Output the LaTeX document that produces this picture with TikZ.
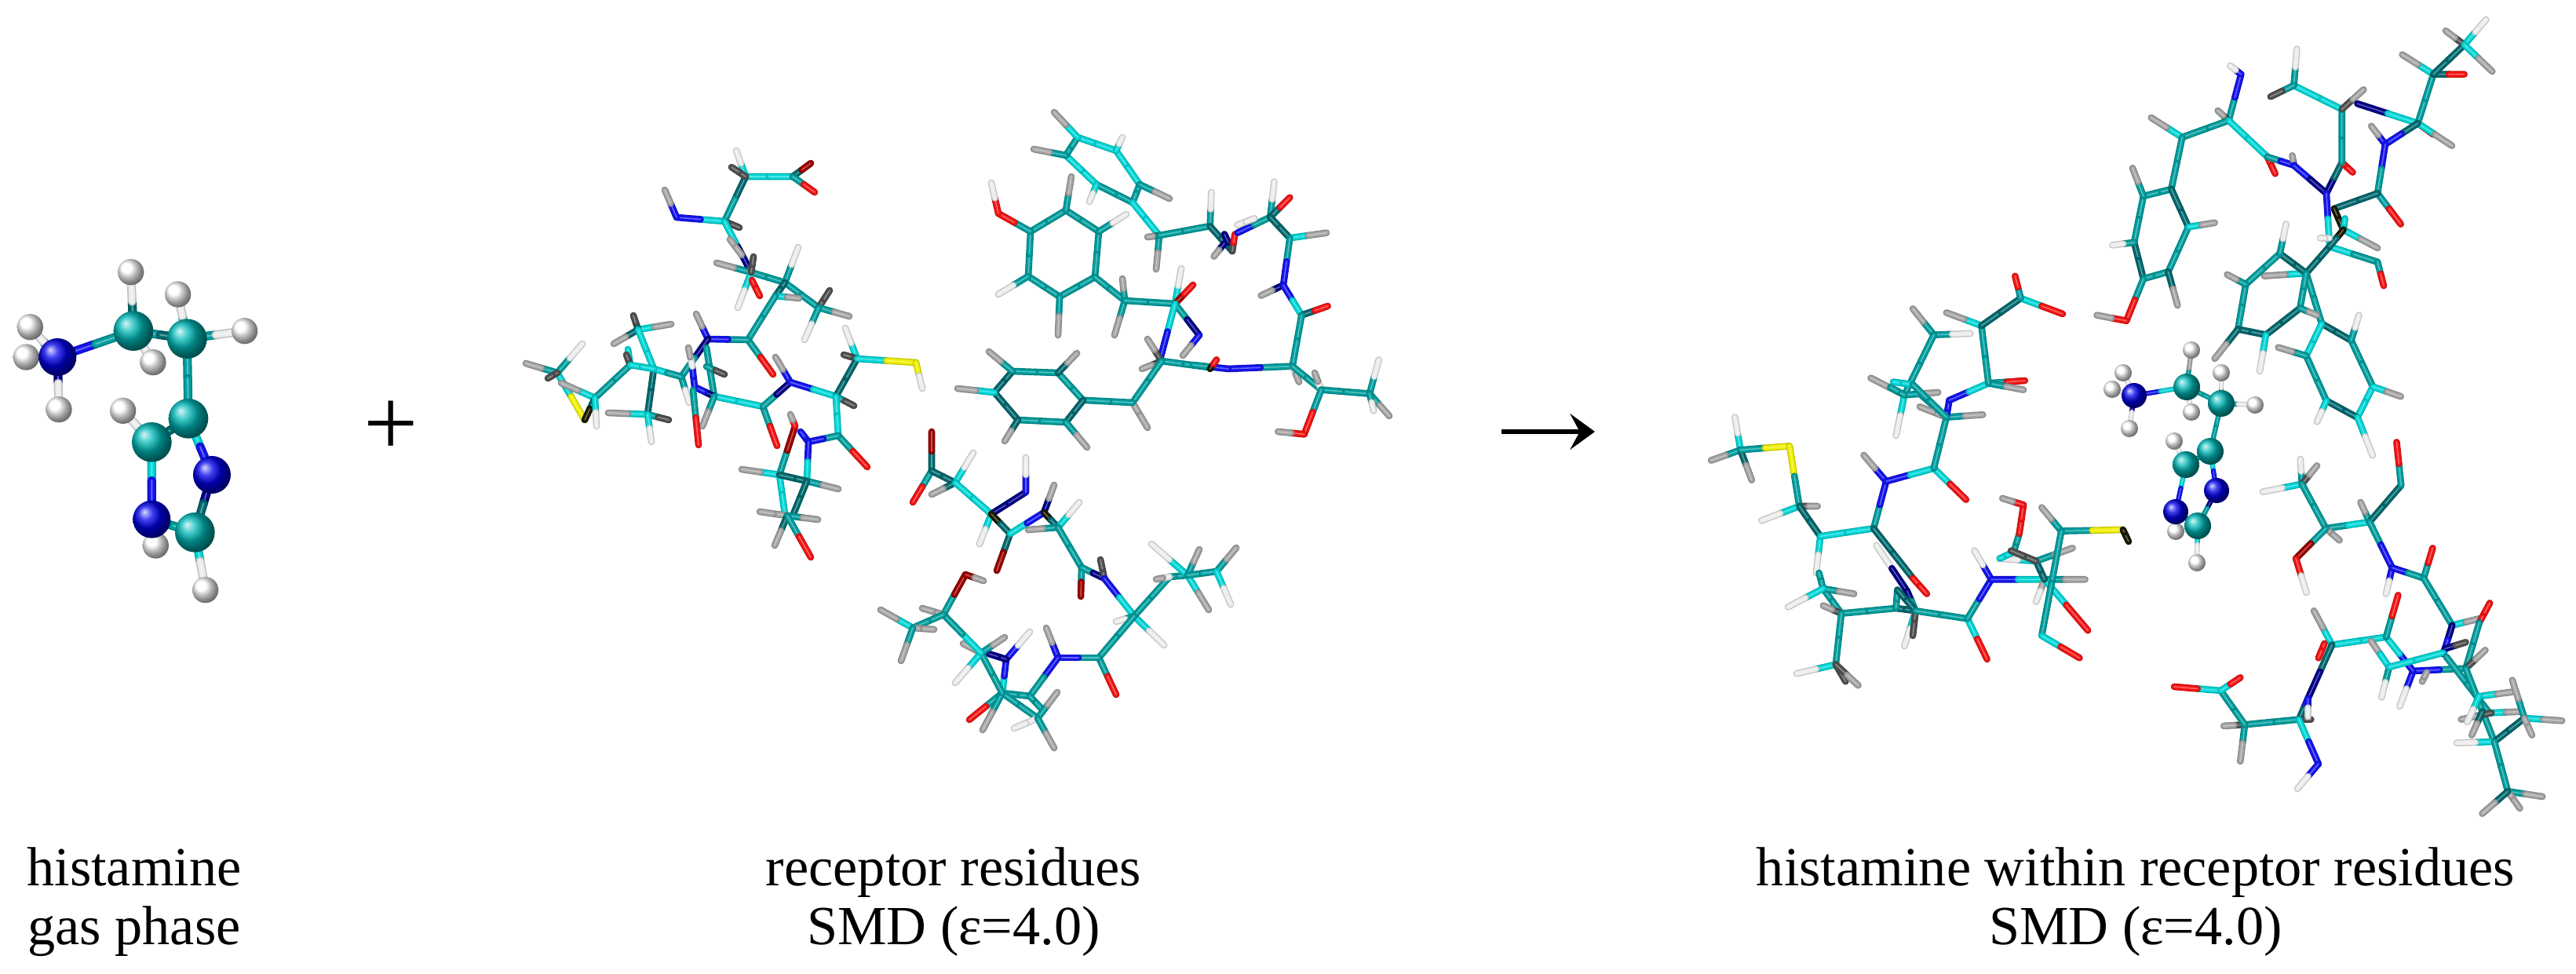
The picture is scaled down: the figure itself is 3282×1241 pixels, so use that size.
\documentclass[tikz,border=0pt]{standalone}
\usepackage{fontspec}
\setmainfont{Liberation Serif}
\usetikzlibrary{calc,arrows.meta}

\definecolor{ct}{RGB}{0,158,158}
\definecolor{cd}{RGB}{0,105,110}
\definecolor{cb}{RGB}{0,215,215}
\definecolor{hw}{RGB}{236,236,236}
\definecolor{hg}{RGB}{165,165,165}
\definecolor{hk}{RGB}{80,80,80}
\definecolor{nb}{RGB}{20,20,240}
\definecolor{nd}{RGB}{0,0,135}
\definecolor{or}{RGB}{245,20,20}
\definecolor{od}{RGB}{155,0,0}
\definecolor{sy}{RGB}{240,240,0}
\definecolor{sk}{RGB}{25,25,0}

\newlength\stickwd
\setlength\stickwd{2.45pt}

% one bond, each half in the colour of its atom
\newcommand\halfstick[3]{%
  \draw[line width=\stickwd,line cap=round,#3!82!black] #1 -- #2;
  \draw[line width=.7\stickwd,line cap=round,#3] #1 -- #2;
  \draw[line width=.18\stickwd,line cap=round,#3!65!white] #1 -- #2;
}
\newcommand\sticks[1]{%
  \foreach \xa/\ya/\ca/\xb/\yb/\cb in {#1}{%
    \coordinate (mid) at ($(\xa,\ya)!.5!(\xb,\yb)$);
    \halfstick{(\xa,\ya)}{(mid)}{\ca}
    \halfstick{(\xb,\yb)}{(mid)}{\cb}
  }%
}
\newcommand\balls[2]{%
  \foreach \xa/\ya in {#2}{\shade[#1] (\xa,\ya) circle;}%
}

\tikzset{
  capt/.style={align=center,font=\fontsize{20}{21.4}\selectfont},
  atomc/.style={ball color=cyan!72!black,radius=\rc},
  atomn/.style={ball color=blue!92!black,radius=\rn},
  atomh/.style={ball color=white,radius=\rh}
}

\begin{document}
\begin{tikzpicture}[x=0.1mm,y=-0.1mm]
  \useasboundingbox (0,0) rectangle (3282,1241);

  % histamine, gas phase
  \begin{scope}[shift={(0,320)},xscale=.3333,yscale=.3333]
    \setlength\stickwd{3.2pt}
    \sticks{220/405/nb/510/305/ct,510/305/ct/715/335/cd,715/335/ct/720/640/ct,720/640/cd/580/730/cd,
      720/640/cb/810/855/nb,580/730/cb/580/1025/nb,810/855/nd/745/1075/cd,580/1025/ct/745/1075/ct,
      510/305/cd/500/80/hw,715/335/cb/680/165/hw,715/335/ct/935/305/hw,510/305/cb/585/425/hw,
      220/405/nd/115/290/hw,220/405/nd/100/405/hw,220/405/nd/225/605/hw,580/730/cb/470/610/hw,
      745/1075/cb/785/1295/hw}
    \def\rh{50}\def\rc{76}\def\rn{72}
    \balls{atomh}{115/290,100/405,225/605,500/80,680/165,935/305,585/425,470/610,595/1125,785/1295}
    \balls{atomc}{510/305,715/335,720/640,580/730,745/1075}
    \balls{atomn}{220/405,810/855,580/1025}
  \end{scope}

  \node[font=\fontsize{35}{35}\selectfont] (plus) at (498,546) {+};
  \coordinate (arrowa) at (1913,550);
  \coordinate (arrowb) at (2032,550);
  \draw[line width=1.5pt,-{Stealth[length=9pt,width=13pt,inset=3.5pt]}] (arrowa) -- (arrowb);

  % receptor residues, first group
  \sticks{950/225/cb/1010/225/cb,950/225/cd/923/282/ct,950/225/cb/938/192/hw,950/225/hk/932/213/hk,
    1010/225/cd/1033/208/od,1010/225/ct/1038/245/or,923/282/cb/862/277/nb,862/277/nb/847/242/hg,
    923/282/hk/942/290/hk,923/282/cb/957/347/nd,930/305/hg/945/325/hg,957/347/ct/1000/360/ct,
    957/347/ct/913/335/hg,957/347/cb/940/392/hw,957/347/hk/960/327/hk,958/357/or/968/377/or,
    1000/360/ct/1017/315/hw,1000/360/ct/1043/392/ct,1043/392/hk/1057/370/hk,1043/392/ct/1082/403/hg,
    1043/392/ct/1025/433/hw,1000/360/cd/988/377/cd,988/377/cb/1018/380/hg,988/377/ct/953/433/ct,
    953/433/ct/985/477/or,953/433/ct/902/432/nb,902/432/nb/887/400/hg,902/432/nd/868/480/ct,
    868/480/ct/878/513/hw,710/475/cb/745/535/sy,710/475/ct/670/463/hg,710/475/ct/742/438/hw,
    710/475/hk/698/482/hk,803/465/ct/758/507/ct,758/507/cb/715/488/hg,758/507/cd/745/535/sk,
    758/507/cb/760/543/hw,833/470/cd/825/528/cd,825/528/cb/775/526/hg,825/528/ct/852/535/hk,
    825/528/cb/830/563/hw,813/420/cd/782/438/hg,813/420/cb/855/413/hg,813/420/cd/807/402/hk,
    833/470/cb/813/420/cb,833/470/cb/868/480/ct,803/465/cb/800/445/cb,803/465/hk/798/452/hk,
    803/465/cb/833/470/cb,900/443/ct/910/505/ct,910/505/cb/972/518/cb,910/505/nd/885/493/nb,
    885/493/nb/882/467/nb,882/467/hw/877/443/hg,900/467/ct/923/477/hk,910/505/ct/895/543/hg,
    883/497/ct/890/567/or,972/518/ct/990/568/or,972/518/ct/1007/487/nd,1007/487/nb/988/455/hg,
    1007/487/nb/1065/505/cb,1065/505/cd/1092/457/cd,1065/505/ct/1088/517/hk,1065/505/cb/1068/555/cb,
    1092/457/cb/1077/418/hw,1092/457/hk/1075/452/hk,1092/457/cb/1167/462/sy,1167/462/sy/1175/495/hw,
    1068/555/ct/1105/595/or,1068/555/ct/1030/563/nb,1030/563/nb/1020/550/nb,1030/563/nb/1028/613/cb,
    993/605/ct/1013/543/od,1013/543/or/1007/528/hg,993/605/cb/945/598/hg,993/605/cb/1000/655/cb,
    1028/613/cd/993/605/cd,1028/613/ct/1068/623/hg,1028/613/cd/1010/657/cd,1003/657/hg/968/652/hg,
    1003/657/ct/1042/662/hg,1003/657/cd/987/695/hg,1003/657/ct/1033/710/or}

  % receptor residues, second group
  \sticks{1373/175/cb/1422/192/cb,1422/192/cb/1452/235/cb,1452/235/ct/1443/258/ct,1443/258/ct/1397/235/ct,
    1397/235/cb/1358/198/cb,1358/198/ct/1373/175/ct,1373/175/cb/1343/143/hg,1422/192/cb/1430/175/hw,
    1452/235/ct/1490/253/hg,1397/235/cb/1388/257/hw,1358/198/ct/1317/190/hg,1443/258/cb/1477/300/cb,
    1477/300/hk/1462/302/hg,1477/300/ct/1473/343/hg,1477/300/ct/1542/288/ct,
    1313/295/ct/1358/268/ct,1358/268/ct/1400/295/ct,1400/295/ct/1395/353/ct,1395/353/ct/1350/378/ct,
    1350/378/ct/1310/352/ct,1310/352/ct/1313/295/ct,1313/295/ct/1272/272/or,1272/272/or/1263/233/hw,
    1358/268/ct/1365/225/hg,1400/295/ct/1435/273/hw,1350/378/ct/1348/427/hg,1310/352/ct/1272/375/hw,
    1395/353/ct/1433/383/ct,1433/383/ct/1430/355/hg,1433/383/ct/1420/427/hg,1433/383/ct/1497/387/ct,
    1497/387/cb/1505/342/hw,1497/387/od/1520/363/or,1497/387/ct/1528/427/nd,1528/427/nb/1507/453/hg,
    1497/387/cb/1478/458/nb,1480/460/hk/1462/432/hg,1480/460/hk/1455/470/hg,1480/460/ct/1540/468/ct,
    1480/460/ct/1443/513/ct,1443/513/hg/1462/545/hg,1443/513/ct/1383/510/ct,
    1380/510/ct/1348/475/ct,1348/475/ct/1290/473/ct,1290/473/cd/1267/500/cd,1267/500/cd/1297/535/cd,
    1297/535/ct/1358/538/ct,1358/538/cd/1380/510/cd,1348/475/cd/1372/450/hg,1290/473/ct/1260/448/hg,
    1267/500/cb/1220/495/hg,1297/535/cd/1280/562/hg,1358/538/ct/1385/570/hg}

  \begin{scope}[shift={(1520,200)},xscale=.3333,yscale=.3333]
    \sticks{65/265/ct/70/135/hw,65/265/cd/150/360/cd,150/360/cd/120/295/nd,150/360/hk/160/295/or,
      120/330/nd/80/380/hg,170/290/nb/295/230/ct,170/260/hw/235/235/hw,295/230/ct/310/95/hw,
      295/230/cd/370/155/or,295/230/cd/370/310/cd,370/310/cb/510/290/hg,370/310/ct/345/490/nb,
      345/490/nd/260/530/hg,345/490/nb/415/605/cb,415/605/cd/515/570/or,415/605/ct/380/800/ct,
      380/800/ct/135/810/nb,135/810/nb/0/795/ct,65/810/sk/90/775/or,380/800/hw/405/860/hg,
      380/800/ct/490/890/ct,490/890/hw/465/825/hg,490/890/ct/675/905/ct,490/890/ct/425/1060/or,
      425/1060/or/325/1050/hg,675/905/ct/710/775/hw,675/905/ct/750/990/hg,675/905/ct/690/970/hw}
  \end{scope}

  % receptor residues, third group
  \sticks{1187/600/cd/1187/550/od,1187/600/ct/1163/640/or,1187/600/cd/1217/615/cd,1217/615/cb/1240/577/hw,
    1217/615/cd/1187/630/hg,1217/615/cb/1263/655/cb,1263/655/nd/1307/627/nd,1307/627/nb/1307/583/hw,
    1263/655/cb/1248/693/hw,1263/655/sk/1287/680/cd,1287/680/cd/1270/727/od,1287/680/cb/1330/653/nb,
    1330/653/nd/1343/618/hg,1330/653/sk/1348/672/cd,1348/672/cb/1375/640/hw,1348/672/ct/1310/675/hg,
    1348/672/ct/1378/723/ct,1378/723/ct/1377/760/od,1378/723/ct/1407/737/nd,1407/737/hk/1402/713/hk,
    1407/737/nb/1445/785/cb,1445/785/ct/1422/792/hw,1445/785/cb/1483/822/hw,1445/785/ct/1490/735/ct,
    1490/735/ct/1513/733/ct,1490/735/hw/1473/738/hg,1513/733/cb/1467/693/hw,1513/733/ct/1528/700/hg,
    1513/733/cb/1540/777/hg,1513/733/ct/1550/728/ct,1550/728/ct/1575/698/hg,1550/728/cb/1568/770/hw,
    1445/785/ct/1400/838/ct,1400/838/ct/1422/885/or,1400/838/ct/1348/838/nb,1348/838/nb/1333/800/hg,
    1348/838/nb/1312/887/ct,1312/887/ct/1277/883/ct,1277/883/ct/1322/915/ct,1312/887/ct/1327/903/ct,
    1322/915/ct/1347/882/hg,1322/915/hw/1292/928/hw,1322/915/ct/1343/953/hg,1277/883/ct/1235/917/or,
    1277/883/ct/1252/930/hg,1277/883/cb/1282/840/nb,1282/840/nb/1312/805/hw,1282/840/nd/1260/833/nd,
    1277/883/ct/1250/832/ct,1250/832/ct/1280/812/hg,1250/832/hg/1227/820/hg,1250/832/cb/1217/870/hw,
    1250/832/cb/1202/783/ct,1202/783/ct/1230/732/od,1230/732/od/1253/740/hg,1202/783/hg/1175/775/hg,
    1202/783/ct/1163/800/ct,1163/800/cb/1122/777/hg,1163/800/hg/1190/802/hg,1163/800/ct/1148/842/hg}

  % histamine within the residues, left group
  \begin{scope}[shift={(2180,360)},xscale=.357,yscale=.3333]
    \sticks{105/640/cb/85/515/hw,105/640/ct/0/680/hg,105/640/cd/145/755/hg,105/640/ct/280/625/sy,
      280/625/sy/315/855/ct,315/855/hk/380/855/hg,315/855/cb/180/910/hw,315/855/cd/390/970/cd,
      390/970/cb/375/1110/hw,390/970/cb/580/940/cb,580/940/ct/625/760/nb,580/940/cd/720/1130/cd,
      720/1130/or/770/1190/or,590/1005/hw/700/1180/nd,700/1180/nd/730/1255/ct,625/760/nb/545/660/hg,
      625/760/nb/795/710/cb,795/710/cb/910/830/or,795/710/ct/840/515/ct,840/515/ct/970/505/hg,
      840/515/nb/850/450/nb,840/515/cb/750/430/ct,840/515/hg/745/475/hg,850/450/nb/990/385/cb,
      990/385/ct/1120/375/or,990/385/ct/1115/410/hg,990/385/ct/965/165/ct,965/165/cb/840/115/hg,
      965/165/cd/1105/60/cd,1105/60/cb/1255/120/or,1105/60/ct/1085/-25/or,795/200/ct/720/100/hg,
      795/200/ct/925/195/hw,795/200/ct/690/430/ct,690/430/ct/570/365/hg,690/430/cb/660/585/hw,
      690/430/ct/810/420/hg,690/430/ct/640/400/ct,650/380/cb/720/390/cb,720/390/ct/840/515/ct,
      385/1110/ct/400/1170/ct,400/1170/ct/465/1265/ct,400/1170/ct/510/1190/hg,400/1170/cb/275/1240/hw,
      465/1265/hk/400/1235/hg,465/1265/ct/660/1245/ct,660/1245/cd/730/1255/cd,660/1245/ct/665/1175/ct,
      665/1175/cd/730/1255/cd,730/1255/cb/690/1390/hw,730/1255/hk/720/1350/hk,465/1265/ct/445/1460/ct,
      445/1460/cb/305/1495/hw,445/1460/hk/480/1525/hk,445/1460/hk/525/1540/hg,730/1255/ct/915/1285/ct,
      915/1285/cb/985/1440/or,915/1285/ct/1000/1135/nb,1000/1135/nb/940/1025/hw,1000/1135/nb/1190/1135/cb,
      1190/1135/ct/1335/1135/hg,1190/1135/hg/1160/1220/hw,1190/1135/cb/1345/1330/or,1190/1135/cd/1160/1065/cd,
      1160/1065/cb/1030/1055/hw,1030/1055/cb/1080/1030/cb,1080/1030/ct/1100/960/ct,1100/960/or/1115/850/or,
      1115/850/or/1040/825/hg,1160/1065/ct/1290/1015/hg,1160/1065/hk/1070/1025/hk,1250/950/ct/1470/945/sy,
      1470/945/sk/1490/990/sk,1250/950/ct/1180/860/hg,1250/950/ct/1180/1350/ct,1180/1350/cb/1315/1435/or}
  \end{scope}

  % histamine within the residues, upper group
  \begin{scope}[shift={(2640,0)},xscale=.395,yscale=.357]
    \sticks{505/430/ct/545/265/nb,545/265/nb/510/235/hw,505/430/hk/470/395/hg,505/430/ct/355/490/ct,
      355/490/cb/255/420/hg,355/490/ct/320/675/ct,320/675/ct/230/700/ct,230/700/ct/200/865/ct,
      200/865/cd/230/995/cd,230/995/ct/310/970/ct,310/970/ct/375/810/ct,375/810/cd/320/675/cd,
      230/700/ct/195/600/hg,200/865/ct/130/875/hw,310/970/cd/340/1090/hg,375/810/cb/460/795/hg,
      230/995/ct/175/1145/or,175/1145/or/80/1125/hg,505/430/cb/630/560/cb,630/560/or/655/620/or,
      630/560/ct/715/590/nb,715/590/nb/710/555/hg,715/590/nb/820/690/nd,820/690/nd/870/580/cd,
      870/580/or/905/615/or,870/580/ct/870/390/ct,870/390/cb/715/305/cb,715/305/ct/725/175/hw,
      715/305/ct/640/345/hk,870/390/hk/940/320/hg,920/370/nd/1115/440/cb,1115/440/ct/1165/265/ct,
      1115/440/or/1165/480/or,1115/440/cb/1225/520/hg,1115/440/cd/1010/515/nb,1010/515/nb/965/450/hg,
      1010/515/nb/985/690/ct,1165/265/cb/1065/195/hg,1165/265/cd/1265/265/or,1165/265/cd/1265/160/cd,
      1265/160/hk/1205/110/hg,1265/160/cb/1335/70/hw,1265/160/cb/1355/255/hg,985/690/ct/1060/800/or,
      985/690/cd/845/745/cd,820/690/nb/830/870/cb,830/880/cb/985/935/ct,985/935/ct/1005/1020/or,
      830/880/cd/755/975/cd,845/745/sk/875/820/sk,875/820/cb/985/885/hg,875/820/cb/880/780/cb,
      875/820/sk/830/880/cd,830/850/hw/800/850/hw,755/975/cb/620/985/hg,755/975/cd/670/905/cd,
      755/975/ct/805/1155/ct,755/975/ct/735/1100/ct,670/905/ct/560/1015/ct,560/1015/ct/535/1175/ct,
      535/1175/cd/625/1195/cd,625/1195/cd/735/1100/cd,670/905/ct/690/800/hw,560/1015/ct/500/980/hg,
      535/1175/cd/460/1280/hg,625/1195/cb/605/1325/hw,735/1100/ct/790/1125/hg,805/1155/cd/900/1215/cd,
      900/1215/ct/970/1380/ct,970/1380/cb/920/1490/cb,920/1490/cd/820/1430/cd,820/1430/ct/755/1270/ct,
      755/1270/cb/805/1155/cb,900/1215/ct/925/1125/hw,970/1380/cb/1060/1415/hg,820/1430/cb/790/1505/hw,
      755/1270/ct/665/1240/hg}
  \end{scope}

  % histamine within the residues, lower group
  \begin{scope}[shift={(2680,540)},xscale=.383,yscale=.3333]
    \sticks{845/-25/cb/895/120/hw,660/230/cb/530/260/hw,660/230/ct/655/135/hw,660/230/hk/710/160/hg,
      660/230/ct/740/400/ct,740/400/ct/885/375/cb,740/400/hg/785/445/hg,740/400/ct/640/515/od,
      640/515/or/675/645/hw,885/375/ct/855/300/hg,885/375/cd/990/235/cd,990/235/ct/975/70/or,
      885/375/ct/960/550/nb,960/550/nb/940/650/hw,960/550/nb/1065/590/ct,1065/590/ct/1095/475/or,
      1065/590/ct/1160/770/ct,1160/770/cb/1250/745/hg,1160/770/nd/1130/880/nb,1135/860/nd/1205/835/hk,
      1250/760/or/1285/685/or,1250/760/ct/1205/935/ct,1205/935/ct/1030/945/nb,1205/935/hk/1270/865/hg,
      1030/945/nb/985/1080/hw,1030/945/nb/940/815/cb,940/815/cb/760/845/cb,940/815/ct/980/655/or,
      760/845/cb/700/715/hg,735/840/or/715/895/or,760/845/cd/680/1050/nd,680/1050/nb/650/1130/cd,
      650/1130/hk/690/1130/hk,680/1050/nb/680/1120/hw,650/1130/ct/470/1150/ct,470/1150/hk/400/1155/hg,
      470/1150/ct/455/1290/hg,470/1150/ct/390/1020/ct,390/1020/cb/235/1005/or,390/1020/cb/455/970/or,
      650/1130/cb/715/1300/nb,715/1300/nb/645/1395/hw,890/830/hg/950/930/cb,950/930/ct/925/1045/hw,
      950/930/cb/1130/875/cb,1060/985/hg/1075/950/hg,1140/890/ct/1280/1100/ct,1205/935/ct/1300/1215/ct,
      1260/1040/cb/1360/1025/hg,1290/1105/cb/1390/1100/hg,1290/1105/hk/1190/1130/hg,1260/1100/cd/1225/1190/hg,
      1250/1040/cb/1210/1140/hw,1300/1215/cb/1175/1220/hw,1300/1215/cd/1400/1125/cd,1400/1125/cb/1525/1135/hg,
      1400/1125/ct/1360/980/hg,1400/1125/hg/1425/1190/hg,1300/1215/ct/1345/1405/ct,1345/1405/ct/1460/1425/hg,
      1345/1405/hg/1385/1470/hg,1345/1405/cd/1260/1490/hg}
  \end{scope}

  % histamine within the residues, the ligand
  \setlength\stickwd{1.8pt}
  \sticks{2719/504/nb/2786/493/cb,2786/493/ct/2830/514/ct,2830/514/ct/2816/575/ct,2816/575/ct/2785/592/ct,
    2816/575/cb/2824/625/nb,2785/592/cb/2772/652/nb,2824/625/nd/2800/670/ct,2772/652/nb/2800/670/ct,
    2719/504/nd/2705/475/hw,2719/504/nd/2691/496/hw,2719/504/nd/2713/546/hw,2786/493/ct/2792/446/hg,
    2830/514/ct/2830/475/hw,2830/514/ct/2873/516/hw,2786/493/ct/2792/525/hw,2785/592/ct/2770/562/hw,
    2800/670/cb/2799/717/hw}
  \def\rh{11}\def\rc{17}\def\rn{16}
  \balls{atomh}{2705/475,2691/496,2713/546,2792/446,2830/475,2873/516,2792/525,2770/562,2772/677,2799/717}
  \balls{atomc}{2786/493,2830/514,2816/575,2785/592,2800/670}
  \balls{atomn}{2719/504,2824/625,2772/652}

  \node[capt] (hista) at (171,1149) {histamine\\gas phase};
  \node[capt] (resid) at (1215,1149) {receptor residues\\SMD (ε=4.0)};
  \node[capt] (compl) at (2721,1149) {histamine within receptor residues\\SMD (ε=4.0)};
\end{tikzpicture}
\end{document}
